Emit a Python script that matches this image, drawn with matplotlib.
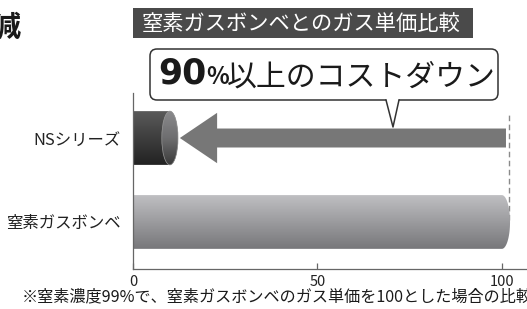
import numpy as np
import matplotlib
matplotlib.use("Agg")
import matplotlib.pyplot as plt
from matplotlib.patches import Polygon, Rectangle, FancyBboxPatch, Ellipse
from matplotlib.colors import LinearSegmentedColormap
from matplotlib.lines import Line2D

plt.rcParams['font.family'] = ['Noto Sans CJK JP', 'DejaVu Sans']

# ---- data ----
categories = ["窒素ガスボンベ", "NSシリーズ"]
values = [100, 10]
xticks = [0, 50, 100]
title_text = "窒素ガスボンベとのガス単価比較"
callout_big = "90"
callout_pct = "%"
callout_rest = "以上のコストダウン"
footnote = "※窒素濃度99%で、窒素ガスボンベのガス単価を100とした場合の比較"
corner_char = "減"

W, H = 527, 309
fig = plt.figure(figsize=(W / 100, H / 100), dpi=100)

# main axes (pixel geometry)
ax_l, ax_b, ax_r, ax_t = 133, 40, 527, 216
ax = fig.add_axes([ax_l / W, ax_b / H, (ax_r - ax_l) / W, (ax_t - ax_b) / H])
xmax = 106.8
ax.set_xlim(0, xmax)
ylo, yhi = -0.56, 1.536
ax.set_ylim(ylo, yhi)

bar_h = 0.64
cap_w = 2.2  # half-width of rounded end (x units)
ypos = [0, 1]


def bar_path(v, yc, n=40):
    y0, y1 = yc - bar_h / 2, yc + bar_h / 2
    t = np.linspace(-np.pi / 2, np.pi / 2, n)
    arc = np.column_stack([v + cap_w * np.cos(t), yc + bar_h / 2 * np.sin(t)])
    pts = np.vstack([[[0, y0]], arc, [[0, y1]]])
    return pts


def grad_fill(ax, v, yc, c_top, c_bot, clip):
    cmap = LinearSegmentedColormap.from_list("g", [c_bot, c_top])
    grad = np.linspace(0, 1, 256).reshape(-1, 1)
    im = ax.imshow(grad, cmap=cmap, aspect='auto', origin='lower',
                   extent=[0, v + cap_w + 0.5, yc - bar_h / 2, yc + bar_h / 2],
                   interpolation='bicubic', zorder=2)
    im.set_clip_path(clip)


# Nitrogen cylinder bar
p0 = Polygon(bar_path(values[0], ypos[0]), closed=True, facecolor='none', edgecolor='none')
ax.add_patch(p0)
grad_fill(ax, values[0], ypos[0], "#bfbfc2", "#77777a", p0)

# NS series bar (dark cylinder)
p1 = Polygon(bar_path(values[1], ypos[1]), closed=True, facecolor='none', edgecolor='none')
ax.add_patch(p1)
grad_fill(ax, values[1], ypos[1], "#5a5a5a", "#222222", p1)
# cylinder end cap
e = Ellipse((values[1], ypos[1]), 2 * cap_w, bar_h, facecolor='none', edgecolor='none', zorder=3)
ax.add_patch(e)
cmap_e = LinearSegmentedColormap.from_list("e", ["#3a3a3a", "#6e6e70", "#8a8a8c"])
im_e = ax.imshow(np.linspace(0, 1, 256).reshape(-1, 1), cmap=cmap_e, aspect='auto', origin='lower',
                 extent=[values[1] - cap_w, values[1] + cap_w, ypos[1] - bar_h / 2, ypos[1] + bar_h / 2],
                 interpolation='bicubic', zorder=3)
im_e.set_clip_path(e)
ax.add_patch(Ellipse((values[1], ypos[1]), 2 * cap_w, bar_h, facecolor='none',
                     edgecolor='#9a9a9a', lw=0.5, zorder=4))

# big arrow from 100 back to NS
tail = values[0] + 1.1
tip = values[1] + 2.7
head_base = values[1] + 12.8
sh, hh = 0.113, 0.30
yc = ypos[1]
arrow_pts = [(tail, yc - sh), (head_base, yc - sh), (head_base, yc - hh), (tip, yc),
             (head_base, yc + hh), (head_base, yc + sh), (tail, yc + sh)]
ax.add_patch(Polygon(arrow_pts, closed=True, facecolor="#777777", edgecolor='none', zorder=3))

# dashed reference line
ax.plot([values[0] + cap_w - 0.3] * 2, [0.02, 1.31], ls=(0, (4, 2.5)), color="#8a8a8a", lw=1.0, zorder=1)

ax.set_xlim(0, xmax)
ax.set_ylim(ylo, yhi)

for s in ['top', 'right']:
    ax.spines[s].set_visible(False)
for s in ['left', 'bottom']:
    ax.spines[s].set_color('#666666')
    ax.spines[s].set_linewidth(0.9)
ax.set_xticks(xticks)
ax.set_xticklabels([str(t) for t in xticks])
ax.tick_params(axis='x', direction='in', length=4.3, width=0.9, color='#666666',
               labelsize=10.5, pad=4.5, labelcolor='#222222')
ax.set_yticks(ypos)
ax.set_yticklabels(categories)
ax.tick_params(axis='y', length=0, pad=9, labelsize=11.8, labelcolor='#222222')
ax.set_facecolor('none')

# overlay axes in pixel coordinates
ov = fig.add_axes([0, 0, 1, 1], zorder=5)
ov.set_xlim(0, W)
ov.set_ylim(H, 0)
ov.axis('off')
ov.patch.set_alpha(0)

# title box
ov.add_patch(Rectangle((133, 8), 340, 30, facecolor="#4a4a4a", edgecolor='none'))
ov.text(142, 23.5, title_text, color='white', fontsize=15.3, va='center', ha='left')

# callout box
ov.add_patch(FancyBboxPatch((150, 49), 348, 51, boxstyle="round,pad=0,rounding_size=7",
                            facecolor='white', edgecolor='#333333', lw=1.1))
ov.add_patch(Polygon([(386, 98.5), (393, 127), (399, 98.5)], closed=True,
                     facecolor='white', edgecolor='none', zorder=3))
ov.add_line(Line2D([386, 393, 399], [100, 127, 100], color='#333333', lw=1.1, zorder=4))
ov.text(158, 84, callout_big, fontsize=25, fontweight='bold', va='baseline', ha='left',
        color='#1a1a1a', family=['DejaVu Sans'])
ov.text(206, 84, callout_pct, fontsize=17, fontweight='bold', va='baseline', ha='left', color='#1a1a1a')
ov.text(227, 85.5, callout_rest, fontsize=21.5, va='baseline', ha='left', color='#1a1a1a')

# corner character (cropped heading)
ov.text(-9, 27, corner_char, fontsize=21, fontweight='bold', va='center', ha='left', color='#1a1a1a')

# footnote
ov.text(22, 297, footnote, fontsize=11.6, va='center', ha='left', color='#1a1a1a')

fig.savefig("out.png", dpi=100)
